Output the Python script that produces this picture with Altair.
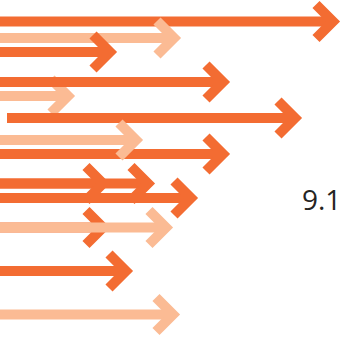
import altair as alt
import pandas as pd

# arrow rows (in chart units)
row_y = [21.5, 38, 52, 82, 96, 118, 140, 154, 183.5, 183.5, 198, 227.5, 227.5, 271, 314.5]
start = [0, 0, 0, 0, 0, 7, 0, 0, 0, 0, 0, 0, 0, 0, 0]
end = [333, 174, 110, 223, 68, 295, 136, 223, 103, 148, 191, 103, 166, 126, 173]
series = ["dark", "light", "dark", "dark", "light", "dark", "light", "dark",
          "dark", "dark", "dark", "dark", "light", "dark", "light"]
stage = [1, 2, 3, 3, 2, 3, 4, 3, 3, 3, 3, 3, 4, 3, 4]

label_text = ["9.1"]
label_x = [302]
label_y = [210]

df = pd.DataFrame({"y": row_y, "x0": start, "x1": end, "series": series, "stage": stage})
lab = pd.DataFrame({"t": label_text, "x": label_x, "y": label_y})

xs = alt.Scale(domain=[0, 341], nice=False, zero=False)
ys = alt.Scale(domain=[0, 338], nice=False, zero=False, reverse=True)
cs = alt.Scale(domain=["dark", "light"], range=["#F36C32", "#FBBB94"])

base = alt.Chart(df)
layers = []
for s in sorted(set(stage)):
    sub = base.transform_filter(alt.datum.stage == s)
    layers.append(sub.mark_rule(strokeWidth=10, strokeCap="butt").encode(
        x=alt.X("x0:Q", scale=xs, axis=None),
        x2="x1:Q",
        y=alt.Y("y:Q", scale=ys, axis=None),
        color=alt.Color("series:N", scale=cs, legend=None),
    ))
    layers.append(sub.mark_point(
        shape="M-1,-1L0,0L-1,1", size=1156, filled=False, strokeWidth=10,
        opacity=1, strokeJoin="miter", strokeCap="butt",
    ).encode(
        x=alt.X("x1:Q", scale=xs, axis=None),
        y=alt.Y("y:Q", scale=ys, axis=None),
        stroke=alt.Color("series:N", scale=cs, legend=None),
    ))

text = alt.Chart(lab).mark_text(
    align="left", baseline="alphabetic", font="Open Sans", fontSize=28, color="#252423"
).encode(
    x=alt.X("x:Q", scale=xs, axis=None),
    y=alt.Y("y:Q", scale=ys, axis=None),
    text="t:N",
)
layers.append(text)

chart = alt.layer(*layers).properties(
    width=341, height=338, padding=0,
    autosize=alt.AutoSizeParams(type="none"),
).configure_view(stroke=None)

chart.save("out.html", embed_options={"renderer": "svg", "actions": False})
